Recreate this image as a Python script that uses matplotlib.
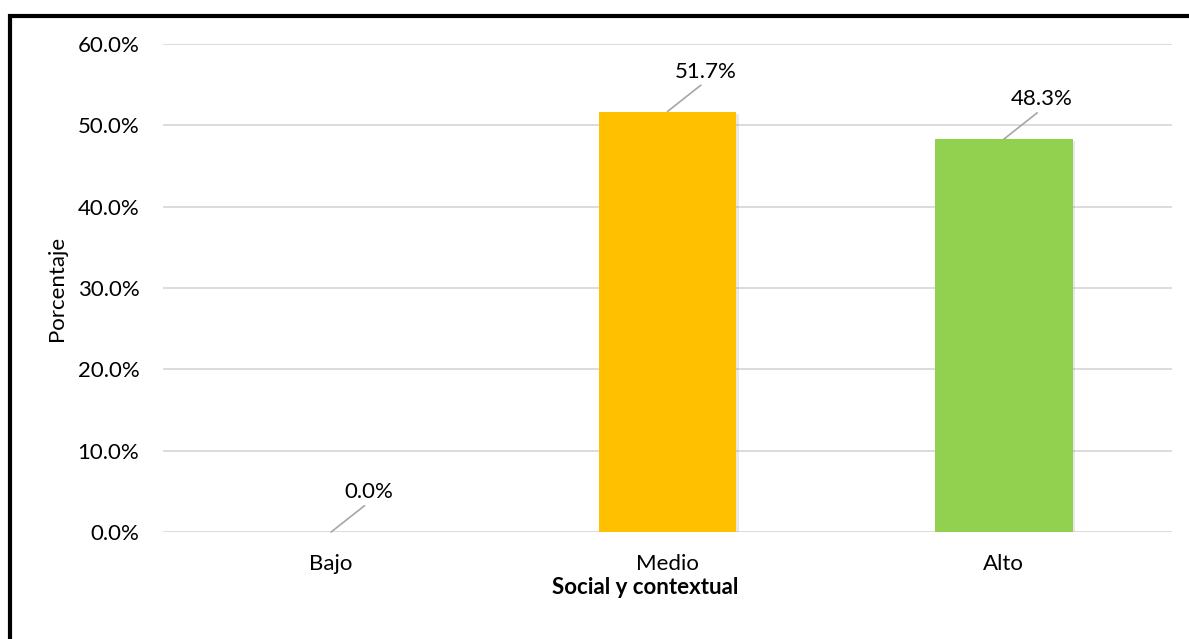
import matplotlib
matplotlib.use("Agg")
import matplotlib.pyplot as plt
import matplotlib.patheffects as pe
from matplotlib.lines import Line2D
from matplotlib.ticker import FuncFormatter

categories = ["Bajo", "Medio", "Alto"]
values = [0.0, 51.7, 48.3]
colors = ["#4472C4", "#FFC000", "#92D050"]
yticks = [0, 10, 20, 30, 40, 50, 60]

plt.rcParams["font.family"] = ["Lato", "DejaVu Sans"]
FS = 16

fig = plt.figure(figsize=(11.89, 6.39), dpi=100)
ax = fig.add_axes([163 / 1189, 1 - 532 / 639, 1009 / 1189, 488 / 639])

x = range(len(categories))
bars = ax.bar(x, values, width=0.41, color=colors, zorder=3)
for b in bars:
    b.set_path_effects([pe.SimplePatchShadow(offset=(1.5, -1.5), alpha=0.18,
                                             shadow_rgbFace="#808080"),
                        pe.Normal()])

ax.set_xlim(-0.5, len(categories) - 0.5)
ax.set_ylim(0, 60)
ax.set_yticks(yticks)
ax.yaxis.set_major_formatter(FuncFormatter(lambda v, _: f"{v:.1f}%"))
ax.set_xticks(list(x))
ax.set_xticklabels(categories)
ax.tick_params(axis="both", length=0, labelsize=FS, colors="#000000")
ax.tick_params(axis="x", pad=16)
ax.tick_params(axis="y", pad=17)
ax.grid(axis="y", color="#d9d9d9", lw=1.3, zorder=0)
for s in ax.spines.values():
    s.set_visible(False)

ax.set_ylabel("Porcentaje", fontsize=FS, va="center")
ax.yaxis.set_label_coords(-0.105, 0.5)
ax.set_xlabel("Social y contextual", fontsize=FS, fontweight="bold", va="center")
ax.xaxis.set_label_coords(0.478, -0.114)

for i, v in enumerate(values):
    ax.annotate(f"{v:.1f}%", xy=(i, v), xytext=(38, 30), textcoords="offset pixels",
                ha="center", va="bottom", fontsize=FS, zorder=5,
                arrowprops=dict(arrowstyle="-", color="#a6a6a6", lw=1.2,
                                relpos=(0.5, 0), shrinkA=1, shrinkB=0))

# outer frame (left and top)
fig.add_artist(Line2D([10 / 1189, 10 / 1189, 1.0], [0.0, 1 - 15.5 / 639, 1 - 15.5 / 639],
                      transform=fig.transFigure, color="black", lw=3.0,
                      solid_joinstyle="miter"))

fig.savefig("out.png", dpi=100)
